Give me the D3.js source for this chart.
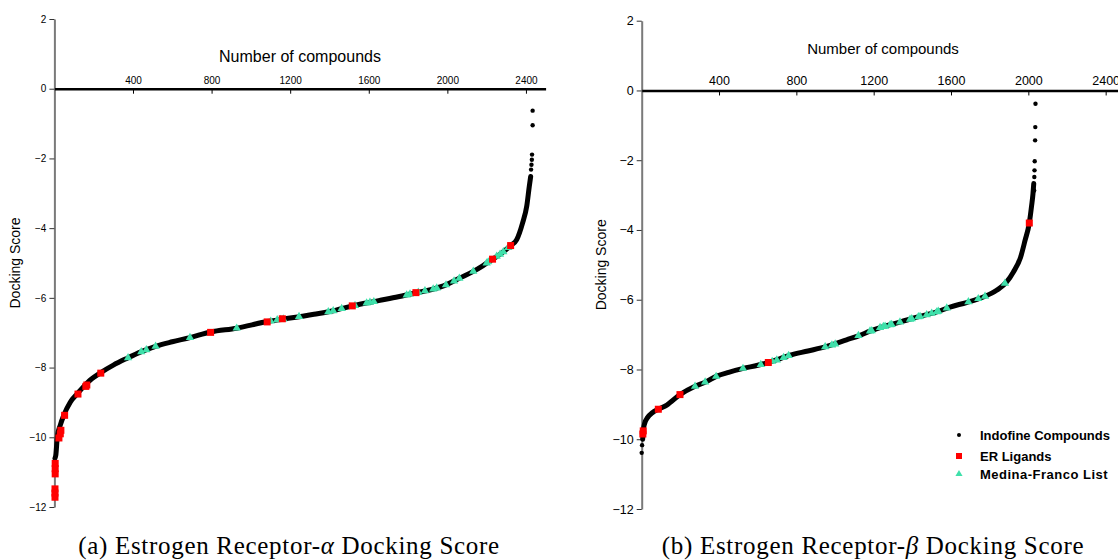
<!DOCTYPE html>
<html><head><meta charset="utf-8">
<script src="https://cdn.jsdelivr.net/npm/d3@7"></script>
<style>
body{margin:0;background:#fff;}
svg{display:block;}
</style></head>
<body>
<svg id="chart" width="1118" height="560"></svg>
<script>
// ---------- data ----------
const xTicks = [400, 800, 1200, 1600, 2000, 2400];
const yTicks = [2, 0, -2, -4, -6, -8, -10, -12];

// ER-alpha: sorted Indofine docking scores [rank, score]
const alphaCurve = [[3,-10.6],[7,-10.52],[15,-9.98],[30,-9.65],[49,-9.35],[80,-9.0],[120,-8.73],[170,-8.42],[232,-8.16],[300,-7.93],[371,-7.73],[440,-7.55],[515,-7.39],[600,-7.26],[690,-7.14],[795,-6.98],[928,-6.87],[1083,-6.68],[1200,-6.58],[1321,-6.47],[1420,-6.37],[1516,-6.23],[1650,-6.08],[1750,-5.97],[1835,-5.86],[1920,-5.76],[1996,-5.62],[2060,-5.44],[2132,-5.24],[2180,-5.08],[2230,-4.89],[2280,-4.70],[2322,-4.50],[2353,-4.33],[2383,-3.85],[2404,-3.37],[2417,-2.80],[2424,-2.52]];
const alphaSparse = [[2426,-2.32],[2428,-2.18],[2430,-2.04],[2431,-1.89],[2434,-1.05],[2434,-0.63]];
const alphaER = [[3,-11.72],[3,-11.6],[3,-11.48],[4,-11.05],[4,-10.9],[4,-10.75],[23,-10.02],[30,-9.9],[33,-9.8],[52,-9.37],[120,-8.76],[160,-8.54],[165,-8.5],[236,-8.16],[795,-6.99],[1083,-6.69],[1160,-6.6],[1516,-6.23],[1840,-5.85],[2230,-4.89],[2322,-4.5]];
const alphaMF = [[375,-7.72],[442,-7.55],[468,-7.49],[515,-7.39],[690,-7.14],[928,-6.87],[1101,-6.67],[1134,-6.63],[1152,-6.62],[1165,-6.61],[1245,-6.54],[1394,-6.4],[1419,-6.37],[1462,-6.31],[1530,-6.22],[1589,-6.15],[1606,-6.13],[1626,-6.11],[1793,-5.92],[1810,-5.89],[1852,-5.84],[1886,-5.8],[1928,-5.75],[1946,-5.72],[1993,-5.63],[2034,-5.52],[2061,-5.44],[2132,-5.24],[2200,-5.0],[2208,-4.97],[2251,-4.81],[2268,-4.75],[2285,-4.68],[2310,-4.56]];

// ER-beta
const betaCurve = [[5,-10.0],[8,-9.76],[15,-9.55],[30,-9.38],[55,-9.24],[86,-9.14],[130,-9.02],[198,-8.72],[276,-8.48],[330,-8.36],[388,-8.19],[450,-8.08],[526,-7.97],[600,-7.88],[655,-7.8],[710,-7.7],[767,-7.59],[860,-7.47],[957,-7.34],[1060,-7.15],[1129,-7.02],[1181,-6.9],[1250,-6.77],[1336,-6.64],[1423,-6.5],[1526,-6.35],[1595,-6.21],[1680,-6.08],[1767,-5.92],[1836,-5.73],[1888,-5.49],[1922,-5.21],[1960,-4.78],[1983,-4.3],[2005,-3.8],[2017,-3.3],[2024,-2.96],[2028,-2.67]];
const betaSparse = [[0,-10.39],[2,-10.17],[2030,-2.87],[2031,-2.48],[2032,-2.29],[2033,-2.03],[2035,-1.43],[2036,-1.05],[2037,-0.38]];
const betaER = [[6,-9.85],[8,-9.76],[86,-9.14],[198,-8.72],[655,-7.8],[2005,-3.8]];
const betaMF = [[276,-8.48],[328,-8.36],[385,-8.2],[524,-7.97],[616,-7.86],[675,-7.77],[699,-7.73],[734,-7.66],[760,-7.6],[949,-7.35],[984,-7.3],[1001,-7.27],[1121,-7.03],[1181,-6.9],[1190,-6.89],[1233,-6.8],[1250,-6.77],[1259,-6.76],[1285,-6.72],[1293,-6.71],[1336,-6.64],[1388,-6.56],[1397,-6.55],[1431,-6.49],[1440,-6.48],[1474,-6.43],[1500,-6.39],[1526,-6.35],[1534,-6.33],[1578,-6.24],[1690,-6.06],[1741,-5.97],[1776,-5.9],[1879,-5.53]];

const legendLabels = ["Indofine Compounds", "ER Ligands", "Medina-Franco List"];
const captions = ["(a) Estrogen Receptor-", "(b) Estrogen Receptor-"];
const greek = ["\u03B1", "\u03B2"];

// ---------- drawing ----------
const svg = d3.select("#chart");
const RED = "#ff0000", TEAL = "#3fe0aa";
const SANS = "Arial, 'Liberation Sans', sans-serif";

const panels = [
  {curve: alphaCurve, sparse: alphaSparse, er: alphaER, mf: alphaMF,
   xr: [54.4, 545.6], yr: [507, 19], tickFont: 10, titleFont: 16, titleY: 62, titleX: 300,
   yTitleX: 20, capX: 289, cap: 0},
  {curve: betaCurve, sparse: betaSparse, er: betaER, mf: betaMF,
   xr: [641.7, 1125], yr: [509, 20.7], tickFont: 12.5, titleFont: 15, titleY: 54, titleX: 883,
   yTitleX: 606, capX: 873, cap: 1}
];

panels.forEach(p => {
  const x = d3.scaleLinear().domain([0, 2500]).range(p.xr);
  const y = d3.scaleLinear().domain([-12, 2]).range(p.yr);
  const g = svg.append("g");

  // y axis
  const ya = g.append("g").attr("transform", `translate(${p.xr[0]},0)`)
    .call(d3.axisLeft(y).tickValues(yTicks).tickFormat(d3.format("d")).tickSize(5).tickSizeOuter(0).tickPadding(3));
  ya.select(".domain").attr("stroke", "#7a7a7a").attr("stroke-width", 2);
  ya.selectAll(".tick line").attr("stroke", "#333");
  ya.selectAll("text").attr("font-family", SANS).attr("font-size", p.tickFont).attr("fill", "#000");

  // x axis along y = 0, labels above, ticks below
  const xa = g.append("g").attr("transform", `translate(0,${y(0)})`)
    .call(d3.axisTop(x).tickValues(xTicks).tickFormat(d3.format("d")).tickSizeInner(-5).tickSizeOuter(0).tickPadding(5));
  xa.select(".domain").attr("stroke", "#000").attr("stroke-width", 2.6);
  xa.selectAll(".tick line").attr("stroke", "#000").attr("stroke-width", 1);
  xa.selectAll("text").attr("font-family", SANS).attr("font-size", p.tickFont).attr("fill", "#000");

  // titles
  g.append("text").attr("x", p.titleX).attr("y", p.titleY).attr("text-anchor", "middle")
    .attr("font-family", SANS).attr("font-size", p.titleFont).text("Number of compounds");
  g.append("text").attr("transform", `translate(${p.yTitleX},${(p.yr[0] + p.yr[1]) / 2}) rotate(-90)`)
    .attr("text-anchor", "middle").attr("font-family", SANS).attr("font-size", 14).text("Docking Score");

  // Indofine curve (dense dots -> thick line)
  const line = d3.line().x(d => x(d[0])).y(d => y(d[1])).curve(d3.curveMonotoneX);
  g.append("path").datum(p.curve).attr("d", line).attr("fill", "none")
    .attr("stroke", "#000").attr("stroke-width", 5).attr("stroke-linecap", "round");
  g.selectAll(".sp").data(p.sparse).join("circle")
    .attr("cx", d => x(d[0])).attr("cy", d => y(d[1])).attr("r", 2.2).attr("fill", "#000");

  // Medina-Franco triangles
  const tri = d3.symbol().type(d3.symbolTriangle).size(30);
  g.selectAll(".mf").data(p.mf).join("path")
    .attr("d", tri).attr("transform", d => `translate(${x(d[0])},${y(d[1])})`)
    .attr("fill", TEAL);

  // ER ligand squares
  g.selectAll(".er").data(p.er).join("rect")
    .attr("x", d => x(d[0]) - 3.5).attr("y", d => y(d[1]) - 3.5)
    .attr("width", 7).attr("height", 7).attr("fill", RED);

  // caption
  const cap = svg.append("text").attr("x", p.capX).attr("y", 554).attr("text-anchor", "middle")
    .attr("font-family", "'Times New Roman', 'Liberation Serif', serif").attr("font-size", 25)
    .attr("letter-spacing", 0.7);
  cap.append("tspan").text(captions[p.cap]);
  cap.append("tspan").attr("font-style", "italic").text(greek[p.cap]);
  cap.append("tspan").text(" Docking Score");
});

// legend (in panel b)
const lg = svg.append("g").attr("font-family", SANS).attr("font-weight", "bold").attr("font-size", 13);
const lyPos = [435, 456, 474];
legendLabels.forEach((lab, i) => {
  const cy = lyPos[i];
  if (i === 0) lg.append("circle").attr("cx", 959).attr("cy", cy).attr("r", 2).attr("fill", "#000");
  if (i === 1) lg.append("rect").attr("x", 956).attr("y", cy - 3).attr("width", 6).attr("height", 6).attr("fill", RED);
  if (i === 2) lg.append("path").attr("d", d3.symbol().type(d3.symbolTriangle).size(22))
    .attr("transform", `translate(959,${cy})`).attr("fill", TEAL);
  lg.append("text").attr("x", 980).attr("y", cy + 4.5).attr("letter-spacing", i === 2 ? 0.5 : 0).text(lab);
});
</script>
</body></html>
